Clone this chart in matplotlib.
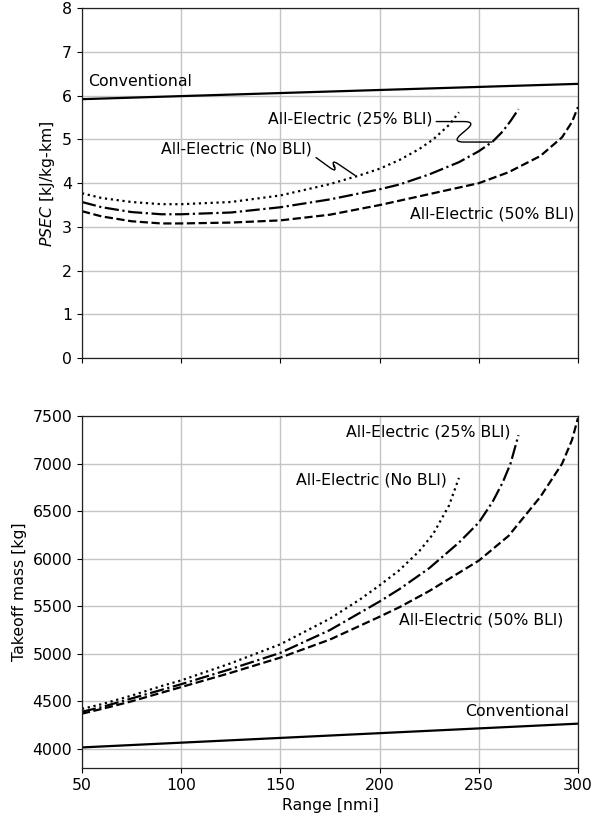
import matplotlib
matplotlib.use("Agg")
import matplotlib.pyplot as plt

# PSEC vs range
range_conv = [50, 300]
psec_conv = [5.92, 6.27]

range_nobli = [50, 60, 75, 90, 100, 125, 150, 175, 190, 200, 210, 220, 227, 235, 240]
psec_nobli = [3.77, 3.66, 3.57, 3.52, 3.52, 3.57, 3.72, 3.98, 4.18, 4.33, 4.53, 4.78, 5.0, 5.33, 5.62]

range_25 = [50, 60, 75, 90, 100, 125, 150, 175, 200, 210, 225, 240, 250, 257, 262, 266, 270]
psec_25 = [3.57, 3.45, 3.34, 3.29, 3.29, 3.33, 3.45, 3.63, 3.86, 3.97, 4.2, 4.48, 4.73, 4.95, 5.18, 5.42, 5.69]

range_50 = [50, 60, 75, 90, 100, 125, 150, 175, 200, 210, 225, 250, 265, 281, 292, 297, 300]
psec_50 = [3.36, 3.24, 3.13, 3.08, 3.08, 3.1, 3.15, 3.28, 3.5, 3.6, 3.75, 4.0, 4.25, 4.62, 5.05, 5.4, 5.74]

# takeoff mass vs range
mass_conv = [4015, 4265]
mass_nobli = [4420, 4470, 4560, 4660, 4720, 4900, 5100, 5370, 5570, 5720, 5880, 6080, 6260, 6560, 6850]
mass_25 = [4390, 4440, 4530, 4620, 4680, 4840, 5010, 5250, 5550, 5680, 5900, 6170, 6380, 6600, 6800, 7000, 7300]
mass_50 = [4370, 4420, 4500, 4590, 4650, 4800, 4960, 5150, 5390, 5490, 5660, 5980, 6240, 6650, 7000, 7250, 7480]

xticks = [50, 100, 150, 200, 250, 300]
psec_ticks = [0, 1, 2, 3, 4, 5, 6, 7, 8]
mass_ticks = [4000, 4500, 5000, 5500, 6000, 6500, 7000, 7500]

plt.rcParams["font.size"] = 11.3

fig = plt.figure(figsize=(5.94, 8.16), dpi=100)
ax1 = fig.add_axes([0.138, 0.561, 0.835, 0.429])
ax2 = fig.add_axes([0.138, 0.059, 0.835, 0.431])

lw = 1.6
for ax in (ax1, ax2):
    ax.grid(True, color="#c4c4c4", linewidth=1.0)
    ax.set_axisbelow(True)
    ax.set_xlim(50, 300)
    ax.set_xticks(xticks)
    for s in ax.spines.values():
        s.set_linewidth(0.9)
        s.set_color("#222222")

ax1.plot(range_conv, psec_conv, "k-", lw=lw)
ax1.plot(range_nobli, psec_nobli, "k:", lw=lw)
ax1.plot(range_25, psec_25, "k-.", lw=lw)
ax1.plot(range_50, psec_50, "k--", lw=lw)
ax1.set_ylim(0, 8)
ax1.set_yticks(psec_ticks)
ax1.set_xticklabels([])
ax1.set_ylabel("$PSEC$ [kJ/kg-km]")

ax1.text(53, 6.32, "Conventional", va="center", ha="left")
ax1.text(298, 3.29, "All-Electric (50% BLI)", va="center", ha="right")
# squiggly leader lines from the labels to their curves
ax1.annotate("All-Electric (25% BLI)", xy=(256.6, 4.94), xytext=(185, 5.46),
             ha="center", va="center",
             arrowprops=dict(arrowstyle="-", color="k", lw=1.0, relpos=(1, 0.35),
                             shrinkA=1, shrinkB=0,
                             connectionstyle="arc,angleA=0,angleB=180,armA=44,armB=40,rad=12"))
ax1.annotate("All-Electric (No BLI)", xy=(187.6, 4.18), xytext=(128, 4.77),
             ha="center", va="center",
             arrowprops=dict(arrowstyle="-", color="k", lw=1.0, relpos=(1, 0.15),
                             shrinkA=1, shrinkB=0,
                             connectionstyle="arc,angleA=-36,angleB=146,armA=32,armB=30,rad=10"))

ax2.plot(range_conv, mass_conv, "k-", lw=lw)
ax2.plot(range_nobli, mass_nobli, "k:", lw=lw)
ax2.plot(range_25, mass_25, "k-.", lw=lw)
ax2.plot(range_50, mass_50, "k--", lw=lw)
ax2.set_ylim(3800, 7500)
ax2.set_yticks(mass_ticks)
ax2.set_xlabel("Range [nmi]")
ax2.set_ylabel("Takeoff mass [kg]")

ax2.text(295.5, 4390, "Conventional", va="center", ha="right")
ax2.text(210, 5356, "All-Electric (50% BLI)", va="center", ha="left")
ax2.text(266, 7333, "All-Electric (25% BLI)", va="center", ha="right")
ax2.text(234, 6830, "All-Electric (No BLI)", va="center", ha="right")

fig.savefig("out.png", dpi=100)
